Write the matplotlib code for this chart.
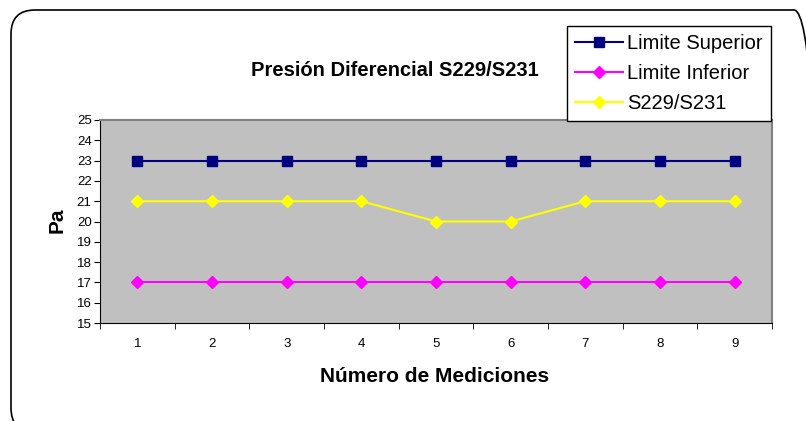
import matplotlib
matplotlib.use("Agg")
import matplotlib.pyplot as plt
from matplotlib.patches import FancyBboxPatch
from matplotlib.ticker import FixedLocator
from matplotlib.transforms import IdentityTransform

plt.rcParams['font.family'] = ['Liberation Sans', 'DejaVu Sans']

mediciones = [1, 2, 3, 4, 5, 6, 7, 8, 9]
limite_superior = [23, 23, 23, 23, 23, 23, 23, 23, 23]
limite_inferior = [17, 17, 17, 17, 17, 17, 17, 17, 17]
s229_s231 = [21, 21, 21, 21, 20, 20, 21, 21, 21]

W, H = 806, 421
fig = plt.figure(figsize=(W/100, H/100), dpi=100)

# rounded outer border (extends past right and bottom edges)
box = FancyBboxPatch((11, H - 432), 818 - 11, 432 - 10,
                     boxstyle="round,pad=0,rounding_size=24",
                     transform=IdentityTransform(), fill=False, ec='black', lw=1.2,
                     clip_on=False)
fig.patches.append(box)

ax = fig.add_axes([100/W, 1 - 323/H, (772 - 100)/W, (323 - 120)/H])
ax.set_facecolor('#C0C0C0')

ax.plot(mediciones, limite_superior, color='#000080', marker='s', markersize=7,
        lw=1.5, label='Limite Superior')
ax.plot(mediciones, limite_inferior, color='#FF00FF', marker='D', markersize=6.5,
        lw=1.5, label='Limite Inferior')
ax.plot(mediciones, s229_s231, color='#FFFF00', marker='D', markersize=6.5,
        lw=1.5, label='S229/S231')

ax.set_xlim(0.5, 9.5)
ax.set_ylim(15, 25)
ax.set_yticks(range(15, 26))
ax.set_xticks(mediciones)
ax.xaxis.set_minor_locator(FixedLocator([0.5 + i for i in range(10)]))
ax.tick_params(axis='x', which='major', length=0, labelsize=9.5, pad=11)
ax.tick_params(axis='x', which='minor', length=4, direction='out')
ax.tick_params(axis='y', which='major', length=4, direction='out', labelsize=9.5, pad=2)

for s in ['top', 'right']:
    ax.spines[s].set_color('#808080')
    ax.spines[s].set_linewidth(1.5)
for s in ['left', 'bottom']:
    ax.spines[s].set_color('black')

fig.text(395/W, 1 - 71/H, 'Presión Diferencial S229/S231', ha='center', va='center',
         fontsize=14.5, fontweight='bold')
fig.text(435/W, 1 - 376/H, 'Número de Mediciones', ha='center', va='center',
         fontsize=15, fontweight='bold')
fig.text(57/W, 1 - 220/H, 'Pa', ha='center', va='center', rotation=90,
         fontsize=15, fontweight='bold')

leg = fig.legend(loc='upper left', bbox_to_anchor=(567/W, 1 - 26/H),
                 frameon=True, fancybox=False, fontsize=14.5,
                 handlelength=2.4, handletextpad=0.2, borderpad=0.4,
                 labelspacing=0.55, borderaxespad=0)
leg.get_frame().set_edgecolor('black')
leg.get_frame().set_linewidth(1.0)
leg.get_frame().set_alpha(1)

fig.savefig('out.png', dpi=100)
